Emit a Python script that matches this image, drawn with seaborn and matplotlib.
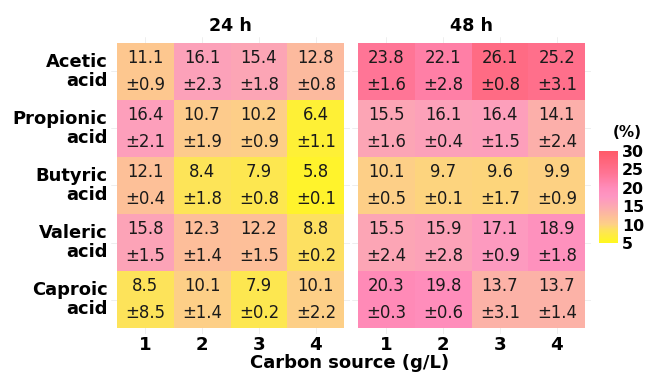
import numpy as np
import pandas as pd
import matplotlib
matplotlib.use("Agg")
import matplotlib.pyplot as plt
import seaborn as sns
from matplotlib.colors import LinearSegmentedColormap

sns.set_theme(style="white")
plt.rcParams['font.family'] = ['DejaVu Sans']
plt.rcParams['text.color'] = 'black'
plt.rcParams['axes.labelcolor'] = 'black'

acids = ["Acetic\nacid", "Propionic\nacid", "Butyric\nacid", "Valeric\nacid", "Caproic\nacid"]
carbon = ["1", "2", "3", "4"]

mean_24 = [[11.1, 16.1, 15.4, 12.8],
           [16.4, 10.7, 10.2, 6.4],
           [12.1, 8.4, 7.9, 5.8],
           [15.8, 12.3, 12.2, 8.8],
           [8.5, 10.1, 7.9, 10.1]]
sd_24 = [[0.9, 2.3, 1.8, 0.8],
         [2.1, 1.9, 0.9, 1.1],
         [0.4, 1.8, 0.8, 0.1],
         [1.5, 1.4, 1.5, 0.2],
         [8.5, 1.4, 0.2, 2.2]]
mean_48 = [[23.8, 22.1, 26.1, 25.2],
           [15.5, 16.1, 16.4, 14.1],
           [10.1, 9.7, 9.6, 9.9],
           [15.5, 15.9, 17.1, 18.9],
           [20.3, 19.8, 13.7, 13.7]]
sd_48 = [[1.6, 2.8, 0.8, 3.1],
         [1.6, 0.4, 1.5, 2.4],
         [0.5, 0.1, 1.7, 0.9],
         [2.4, 2.8, 0.9, 1.8],
         [0.3, 0.6, 3.1, 1.4]]
panel_titles = ["24 h", "48 h"]
cbar_ticks = [5, 10, 15, 20, 25, 30]

cmap = LinearSegmentedColormap.from_list(
    "pal", [(0.0, "#FFF81E"), (0.14, "#FDE35B"), (0.2, "#FDD086"), (0.4, "#FCA8B2"),
            (0.5, "#FD97C2"), (0.6, "#FF8CBA"), (0.76, "#FF7494"), (1.0, "#FF5A68")])
vmin, vmax = 5, 30

W, H = 654, 374
fig = plt.figure(figsize=(W / 100, H / 100), dpi=100)

def fx(px):
    return px / W

def fy(py):
    return 1 - py / H

pad = 6
panels = [(117, 344), (358, 585)]
top, bot = 43, 328
axes = []
for (x0, x1) in panels:
    ax = fig.add_axes([fx(x0 - pad), fy(bot + pad), (x1 - x0 + 2 * pad) / W, (bot - top + 2 * pad) / H])
    axes.append(ax)

cax = fig.add_axes([fx(599), fy(243), 19 / W, 92 / H])

for i, (ax, m, s, title) in enumerate(zip(axes, [mean_24, mean_48], [sd_24, sd_48], panel_titles)):
    df = pd.DataFrame(m, index=acids, columns=carbon)
    sns.heatmap(df, ax=ax, cmap=cmap, vmin=vmin, vmax=vmax, cbar=(i == 1),
                cbar_ax=cax if i == 1 else None, annot=False, linewidths=0)
    ax.set_xlim(-0.1, 4.1)
    ax.set_ylim(5.1, -0.1)
    ax.set_axisbelow(True)
    ax.grid(True, color="#EBEBEB", linewidth=0.6)
    for sp in ax.spines.values():
        sp.set_visible(False)
    ax.set_facecolor("white")
    for r in range(5):
        for c in range(4):
            ax.text(c + 0.5, r + 0.26, f"{m[r][c]:.1f}", ha="center", va="center",
                    fontsize=11.9, color="#1a1a1a")
            ax.text(c + 0.5, r + 0.74, f"\u00b1{s[r][c]:.1f}", ha="center", va="center",
                    fontsize=11.9, color="#1a1a1a")
    ax.set_xticks(np.arange(4) + 0.5)
    ax.set_xticklabels(carbon, fontsize=13.1, fontweight="bold", color="black")
    ax.tick_params(axis="x", length=0, pad=1.5)
    ax.set_xlabel("")
    ax.set_ylabel("")
    ax.set_title(title, fontsize=12.6, fontweight="bold", pad=4, color="black")
    ax.set_yticks(np.arange(5) + 0.5)
    if i == 0:
        ax.set_yticklabels(acids, fontsize=12.9, fontweight="bold", color="black",
                           rotation=0, ha="right", linespacing=1.1)
        ax.tick_params(axis="y", length=0, pad=2.5)
    else:
        ax.set_yticklabels([])
        ax.tick_params(axis="y", length=0)

cax.set_yticks(cbar_ticks)
cax.set_yticklabels([str(t) for t in cbar_ticks], fontsize=11.4, fontweight="bold", color="black")
cax.tick_params(axis="y", length=4, color="white", direction="in", pad=3, right=True, left=True)
for sp in cax.spines.values():
    sp.set_visible(False)
fig.text(fx(627), fy(132), "(%)", ha="center", va="center", fontsize=11, fontweight="bold",
         color="black")

fig.text(fx(350), fy(363), "Carbon source (g/L)", ha="center", va="center",
         fontsize=13, fontweight="bold", color="black")

fig.savefig("out.png", dpi=100, facecolor="white")
